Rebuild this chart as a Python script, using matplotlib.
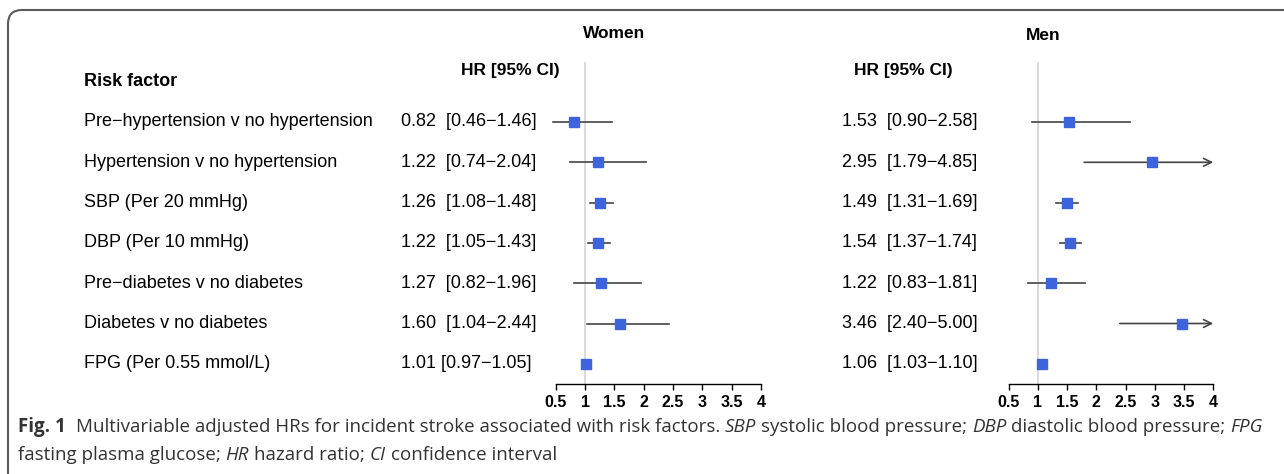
import numpy as np
import matplotlib
matplotlib.use('Agg')
import matplotlib.pyplot as plt
from matplotlib.patches import FancyBboxPatch
from matplotlib.transforms import IdentityTransform

# 数据
factors = ['Pre\u2212hypertension v no hypertension',
           'Hypertension v no hypertension',
           'SBP (Per 20 mmHg)',
           'DBP (Per 10 mmHg)',
           'Pre\u2212diabetes v no diabetes',
           'Diabetes v no diabetes',
           'FPG (Per 0.55 mmol/L)']
women_hr = [0.82, 1.22, 1.26, 1.22, 1.27, 1.60, 1.01]
women_lo = [0.46, 0.74, 1.08, 1.05, 0.82, 1.04, 0.97]
women_hi = [1.46, 2.04, 1.48, 1.43, 1.96, 2.44, 1.05]
men_hr = [1.53, 2.95, 1.49, 1.54, 1.22, 3.46, 1.06]
men_lo = [0.90, 1.79, 1.31, 1.37, 0.83, 2.40, 1.03]
men_hi = [2.58, 4.85, 1.69, 1.74, 1.81, 5.00, 1.10]
x_ticks = [0.5, 1, 1.5, 2, 2.5, 3, 3.5, 4]

W, H = 1284, 474
fig = plt.figure(figsize=(W / 100, H / 100), dpi=100)
plt.rcParams['font.family'] = ['Liberation Sans', 'DejaVu Sans']


def fx(px):
    return px / W


def fy(py):
    return 1 - py / H


row_y = [122 + 40.3 * i for i in range(len(factors))]
TXT = 13

# 外框
box = FancyBboxPatch((8, -20), 1320, H - 10 + 20,
                     boxstyle='round,pad=0,rounding_size=14',
                     transform=IdentityTransform(), fill=False,
                     edgecolor='#5a5a5a', linewidth=1.5)
fig.patches.append(box)

# 表头
fig.text(fx(84), fy(82), 'Risk factor', fontsize=TXT, fontweight='bold', va='center')
fig.text(fx(510), fy(71), 'HR [95% CI)', fontsize=12.5, fontweight='bold', va='center', ha='center')
fig.text(fx(903), fy(71), 'HR [95% CI)', fontsize=12.5, fontweight='bold', va='center', ha='center')
fig.text(fx(614), fy(33), 'Women', fontsize=12.5, fontweight='bold', va='center', ha='center')
fig.text(fx(1043), fy(36), 'Men', fontsize=12.5, fontweight='bold', va='center', ha='center')


def fmt(hr, lo, hi):
    sep = ' ' if hr < 1.1 and lo < 1 and hi < 1.1 else '  '
    return '%.2f%s[%.2f\u2212%.2f]' % (hr, sep, lo, hi)


for i, name in enumerate(factors):
    fig.text(fx(84), fy(row_y[i]), name, fontsize=TXT, va='center')
    fig.text(fx(401), fy(row_y[i]), fmt(women_hr[i], women_lo[i], women_hi[i]),
             fontsize=TXT, va='center')
    fig.text(fx(842), fy(row_y[i]), fmt(men_hr[i], men_lo[i], men_hi[i]),
             fontsize=TXT, va='center')


def forest(x1_px, scale, hr, lo, hi):
    # 像素 -> 数据坐标
    xmin, xmax = 0.4, 4.1
    left = x1_px + (xmin - 1) * scale
    right = x1_px + (xmax - 1) * scale
    top, bottom = 62, 384
    ax = fig.add_axes([fx(left), fy(bottom), fx(right - left), (bottom - top) / H])
    ax.set_xlim(xmin, xmax)
    ylo = (bottom - 122) / 40.3
    yhi = (top - 122) / 40.3
    ax.set_ylim(ylo, yhi)
    ax.patch.set_alpha(0)
    ax.axvline(1, color='#d8d8d8', lw=1.3, zorder=0)
    for i in range(len(hr)):
        if hi[i] > 4:
            ax.annotate('', xy=(4, i), xytext=(lo[i], i),
                        arrowprops=dict(arrowstyle='->', color='#444444', lw=1.2,
                                        shrinkA=0, shrinkB=0, mutation_scale=14))
        else:
            ax.plot([lo[i], hi[i]], [i, i], color='#444444', lw=1.2, zorder=1)
        ax.plot(hr[i], i, 's', color='#3D63DD', ms=7, zorder=3)
    for s in ['top', 'left', 'right']:
        ax.spines[s].set_visible(False)
    ax.spines['bottom'].set_bounds(0.5, 4)
    ax.spines['bottom'].set_linewidth(1.0)
    ax.set_yticks([])
    ax.set_xticks(x_ticks)
    ax.set_xticklabels(['%g' % t for t in x_ticks], fontweight='bold', fontsize=11.5)
    ax.tick_params(axis='x', length=4, width=1.0, pad=4)
    return ax


forest(585, 58.6, women_hr, women_lo, women_hi)
forest(1038, 58.4, men_hr, men_lo, men_hi)

# 图注
renderer = fig.canvas.get_renderer()
CAP = 13.5
cap_font = ['Open Sans', 'DejaVu Sans']


def space_w():
    a = fig.text(0, 0, 'x x', fontsize=CAP, family=cap_font)
    b = fig.text(0, 0, 'xx', fontsize=CAP, family=cap_font)
    w = a.get_window_extent(renderer).width - b.get_window_extent(renderer).width
    a.remove()
    b.remove()
    return w


SP = space_w()


def runs(x, y, parts):
    for s, kw in parts:
        lead = len(s) - len(s.lstrip(' '))
        trail = len(s) - len(s.rstrip(' '))
        x += lead * SP
        t = fig.text(x / W, fy(y), s.strip(' '), fontsize=CAP, family=cap_font,
                     va='center', color='#333333', **kw)
        x = t.get_window_extent(renderer).x1 + trail * SP


it = dict(fontstyle='italic')
runs(18, 427, [('Fig. 1', dict(fontweight='bold')),
               ('  Multivariable adjusted HRs for incident stroke associated with risk factors. ', {}),
               ('SBP', it), (' systolic blood pressure; ', {}),
               ('DBP', it), (' diastolic blood pressure; ', {}),
               ('FPG', it)])
runs(18, 455, [('fasting plasma glucose; ', {}), ('HR', it), (' hazard ratio; ', {}),
               ('CI', it), (' confidence interval', {})])

fig.savefig('out.png', dpi=100)
